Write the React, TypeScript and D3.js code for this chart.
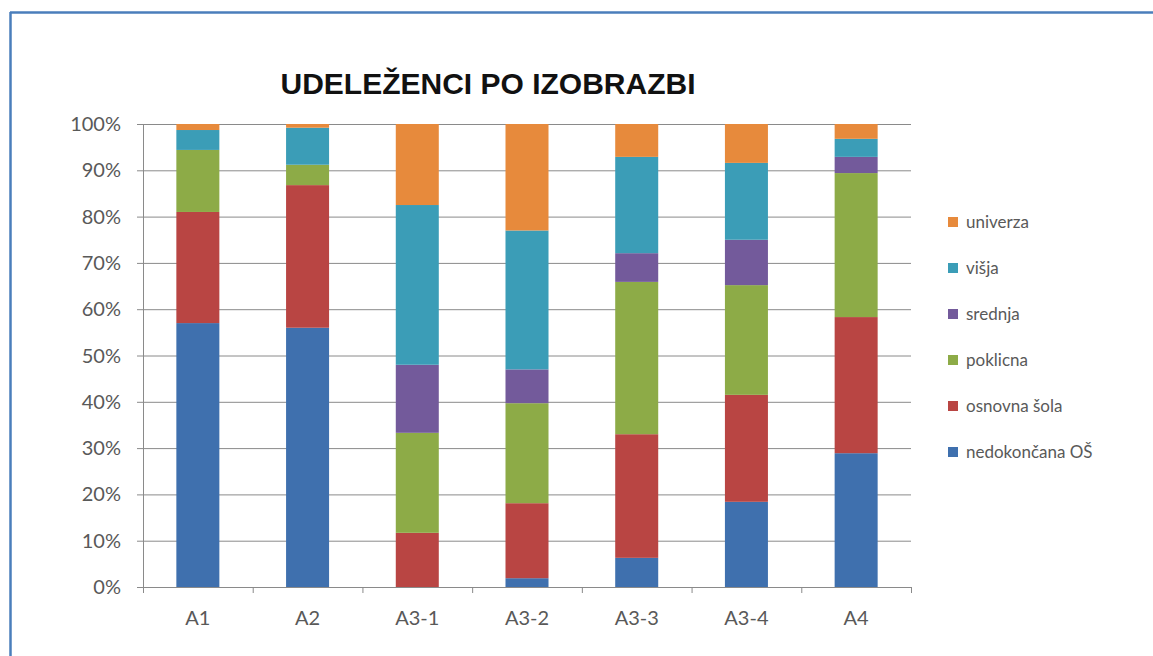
import React from 'react';
import * as d3 from 'd3';

const categories = ['A1', 'A2', 'A3-1', 'A3-2', 'A3-3', 'A3-4', 'A4'];
const seriesNames = ['nedokončana OŠ', 'osnovna šola', 'poklicna', 'srednja', 'višja', 'univerza'];
const nedokoncana = [57.0, 56.0, 0.0, 1.9, 6.3, 18.4, 28.9];
const osnovna = [24.0, 30.8, 11.7, 16.2, 26.7, 23.1, 29.4];
const poklicna = [13.4, 4.4, 21.6, 21.6, 32.9, 23.7, 31.1];
const srednja = [0.0, 0.0, 14.7, 7.3, 6.2, 9.8, 3.5];
const visja = [4.3, 8.0, 34.5, 30.0, 20.8, 16.6, 3.9];
const univerza = [1.3, 0.8, 17.5, 23.0, 7.1, 8.4, 3.2];
const yTicks = [0, 10, 20, 30, 40, 50, 60, 70, 80, 90, 100];

const colors = ['#3F70AE', '#B94543', '#8DAB47', '#735A9B', '#3B9DB7', '#E78A3C'];

const W = 1153;
const H = 656;
const left = 143;
const right = 911;
const top = 124;
const bottom = 587;
const labelFont = 'Lato, "Open Sans", sans-serif';

export default function App() {
  const series = [nedokoncana, osnovna, poklicna, srednja, visja, univerza];
  const rows = categories.map((c, i) => {
    const row: any = { cat: c };
    seriesNames.forEach((s, j) => { row[s] = series[j][i]; });
    return row;
  });
  const stack = d3.stack<any>().keys(seriesNames).offset(d3.stackOffsetExpand);
  const layers = stack(rows);

  const x = d3.scaleBand<string>().domain(categories).range([left, right])
    .paddingInner(0.608).paddingOuter(0.304);
  const y = d3.scaleLinear().domain([0, 1]).range([bottom, top]);
  const step = x.step();

  return (
    <svg width={W} height={H} style={{ position: 'absolute', left: 0, top: 0 }}>
      <rect x={0} y={0} width={W} height={H} fill="#ffffff" />
      <line x1={10} x2={W} y1={12.5} y2={12.5} stroke="#4A7EBB" strokeWidth={2.5} />
      <line x1={10.5} x2={10.5} y1={12} y2={H} stroke="#4A7EBB" strokeWidth={2.5} />

      <text x={488} y={94} textAnchor="middle" fontFamily='"Liberation Sans", Arial, sans-serif'
            fontWeight="bold" fontSize={30} fill="#111">UDELEŽENCI PO IZOBRAZBI</text>

      {yTicks.map(t => (
        <g key={t}>
          <line x1={left - 6} x2={right} y1={y(t / 100) + 0.5} y2={y(t / 100) + 0.5}
                stroke="#8a8a8a" strokeWidth={1} />
          <text x={left - 22} y={y(t / 100) + 7} textAnchor="end" fontFamily={labelFont}
                fontSize={20} fill="#595959">{t + '%'}</text>
        </g>
      ))}
      <line x1={left + 0.5} x2={left + 0.5} y1={top} y2={bottom} stroke="#8a8a8a" strokeWidth={1} />

      {layers.map((layer, j) => (
        <g key={layer.key} fill={colors[j]}>
          {layer.map((d, i) => (
            <rect key={i} x={x(categories[i])} width={x.bandwidth()}
                  y={y(d[1])} height={Math.max(0, y(d[0]) - y(d[1]))} />
          ))}
        </g>
      ))}

      {d3.range(categories.length + 1).map(i => (
        <line key={i} x1={left + i * step + 0.5} x2={left + i * step + 0.5}
              y1={bottom} y2={bottom + 6} stroke="#8a8a8a" />
      ))}
      {categories.map(c => (
        <text key={c} x={(x(c) as number) + x.bandwidth() / 2} y={625} textAnchor="middle"
              fontFamily={labelFont} fontSize={20} fill="#595959">{c}</text>
      ))}

      {seriesNames.slice().reverse().map((s, k) => {
        const j = seriesNames.length - 1 - k;
        const ly = 222 + k * 46;
        return (
          <g key={s}>
            <rect x={948} y={ly - 5} width={10} height={10} fill={colors[j]} />
            <text x={966} y={ly + 6} fontFamily={labelFont} fontSize={17} fill="#595959">{s}</text>
          </g>
        );
      })}
    </svg>
  );
}
